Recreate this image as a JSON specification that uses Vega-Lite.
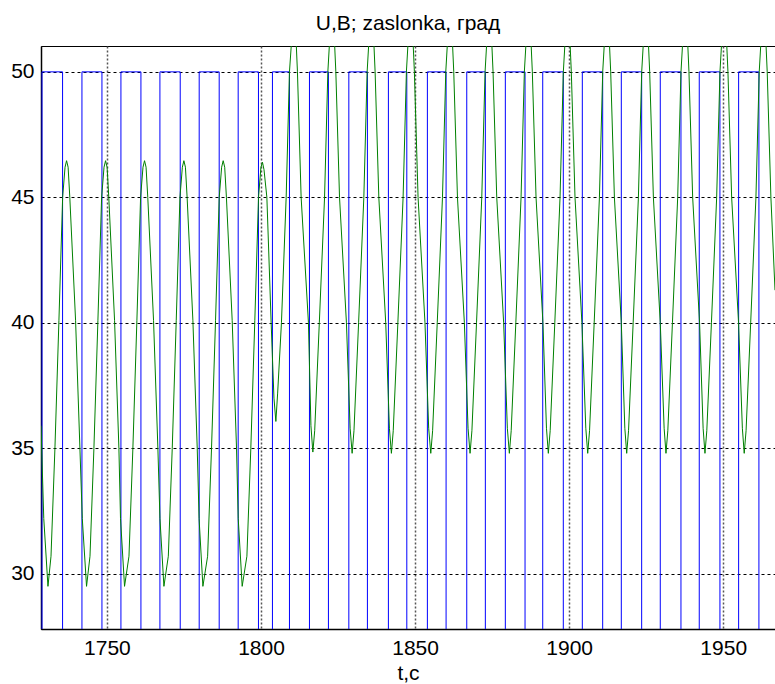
{
  "$schema": "https://vega.github.io/schema/vega-lite/v6.json",
  "width": 734,
  "height": 583,
  "autosize": {"type": "none"},
  "padding": {"left": 41, "top": 46, "right": 0, "bottom": 55},
  "background": "white",
  "title": {"text": "U,B; zaslonka, град", "font": "Liberation Sans", "fontSize": 21, "fontWeight": "normal", "color": "black", "anchor": "middle", "offset": 12},
  "config": {
    "view": {"stroke": "black", "strokeWidth": 1},
    "axis": {"labelFont": "Liberation Sans", "labelFontSize": 21, "labelColor": "black", "titleFont": "Liberation Sans", "titleFontSize": 21, "titleFontWeight": "normal", "titleColor": "black", "domainColor": "black", "domainWidth": 1.5, "ticks": false}
  },
  "datasets": {
    "blue": [
      {"t":1728.6,"v":0},{"t":1728.92,"v":50},{"t":1735.6,"v":0},{"t":1741.89,"v":50},{"t":1748.38,"v":0},{"t":1754.54,"v":50},{"t":1761.03,"v":0},{"t":1767.19,"v":50},{"t":1773.78,"v":0},{"t":1779.94,"v":50},{"t":1786.43,"v":0},{"t":1792.59,"v":50},{"t":1799.17,"v":0},{"t":1803.71,"v":50},{"t":1809.23,"v":0},{"t":1815.72,"v":50},{"t":1821.88,"v":0},{"t":1828.5,"v":50},{"t":1834.53,"v":0},{"t":1841.34,"v":50},{"t":1847.31,"v":0},{"t":1853.99,"v":50},{"t":1860.06,"v":0},{"t":1866.77,"v":50},{"t":1872.8,"v":0},{"t":1879.29,"v":50},{"t":1885.68,"v":0},{"t":1891.42,"v":50},{"t":1898.1,"v":0},{"t":1904.27,"v":50},{"t":1910.88,"v":0},{"t":1916.92,"v":50},{"t":1923.53,"v":0},{"t":1929.57,"v":50},{"t":1936.28,"v":0},{"t":1942.22,"v":50},{"t":1948.93,"v":0},{"t":1955.0,"v":50},{"t":1961.58,"v":0},{"t":1966.8,"v":0}
    ],
    "green": [
      {"t":1728.6,"v":35.9},{"t":1729.5,"v":32.2},{"t":1730.86,"v":29.5},
      {"t":1731.85,"v":30.7},{"t":1733.12,"v":35},{"t":1734.42,"v":40.1},{"t":1735.62,"v":45},{"t":1736.4,"v":46.2},{"t":1736.9,"v":46.46},{"t":1737.4,"v":46.2},{"t":1737.95,"v":45},{"t":1739.82,"v":40.1},{"t":1741.23,"v":35},{"t":1742.0,"v":32.2},{"t":1743.38,"v":29.5},
      {"t":1744.5,"v":30.7},{"t":1745.77,"v":35},{"t":1747.07,"v":40.1},{"t":1748.27,"v":45},{"t":1749.05,"v":46.2},{"t":1749.55,"v":46.46},{"t":1750.05,"v":46.2},{"t":1750.6,"v":45},{"t":1752.47,"v":40.1},{"t":1753.88,"v":35},{"t":1754.4,"v":32.2},{"t":1755.71,"v":29.5},
      {"t":1757.15,"v":30.7},{"t":1758.42,"v":35},{"t":1759.72,"v":40.1},{"t":1760.92,"v":45},{"t":1761.7,"v":46.2},{"t":1762.2,"v":46.46},{"t":1762.7,"v":46.2},{"t":1763.25,"v":45},{"t":1765.12,"v":40.1},{"t":1766.53,"v":35},{"t":1767.2,"v":32.2},{"t":1768.49,"v":29.5},
      {"t":1769.92,"v":30.7},{"t":1771.19,"v":35},{"t":1772.49,"v":40.1},{"t":1773.69,"v":45},{"t":1774.47,"v":46.2},{"t":1774.97,"v":46.46},{"t":1775.47,"v":46.2},{"t":1776.02,"v":45},{"t":1777.89,"v":40.1},{"t":1779.3,"v":35},{"t":1779.9,"v":32.2},{"t":1781.14,"v":29.5},
      {"t":1782.67,"v":30.7},{"t":1783.94,"v":35},{"t":1785.24,"v":40.1},{"t":1786.44,"v":45},{"t":1787.22,"v":46.2},{"t":1787.72,"v":46.46},{"t":1788.22,"v":46.2},{"t":1788.77,"v":45},{"t":1790.64,"v":40.1},{"t":1792.05,"v":35},{"t":1792.6,"v":32.2},{"t":1793.89,"v":29.5},
      {"t":1795.42,"v":30.7},{"t":1796.69,"v":35},{"t":1797.99,"v":40.1},{"t":1799.19,"v":45},{"t":1799.97,"v":46.2},{"t":1800.47,"v":46.4},{"t":1800.97,"v":46.1},{"t":1801.9,"v":45},{"t":1803.29,"v":40},{"t":1804.2,"v":37.0},{"t":1804.82,"v":36.07},
      {"t":1805.4,"v":37.2},{"t":1806.63,"v":40},{"t":1808.16,"v":45},{"t":1809.23,"v":50},{"t":1809.9,"v":51.2},{"t":1810.69,"v":52},{"t":1811.4,"v":51.2},{"t":1811.82,"v":50},{"t":1813.02,"v":45},{"t":1815.39,"v":40},{"t":1816.2,"v":35.9},
      {"t":1816.82,"v":34.85},{"t":1817.42,"v":35.7},{"t":1818.92,"v":40},{"t":1820.62,"v":45},{"t":1821.69,"v":50},{"t":1822.25,"v":51.2},{"t":1823.05,"v":52},{"t":1823.85,"v":51.2},{"t":1824.28,"v":50},{"t":1825.48,"v":45},{"t":1827.72,"v":40},{"t":1828.92,"v":35.8},
      {"t":1829.57,"v":34.8},{"t":1830.17,"v":35.7},{"t":1831.67,"v":40},{"t":1833.37,"v":45},{"t":1834.44,"v":50},{"t":1835.0,"v":51.2},{"t":1835.8,"v":52},{"t":1836.6,"v":51.2},{"t":1837.03,"v":50},{"t":1838.23,"v":45},{"t":1840.47,"v":40},{"t":1841.67,"v":35.8},
      {"t":1842.31,"v":34.8},{"t":1842.91,"v":35.7},{"t":1844.41,"v":40},{"t":1846.11,"v":45},{"t":1847.18,"v":50},{"t":1847.74,"v":51.2},{"t":1848.54,"v":52},{"t":1849.34,"v":51.2},{"t":1849.77,"v":50},{"t":1850.97,"v":45},{"t":1853.21,"v":40},{"t":1854.41,"v":35.8},
      {"t":1855.09,"v":34.8},{"t":1855.69,"v":35.7},{"t":1857.19,"v":40},{"t":1858.89,"v":45},{"t":1859.96,"v":50},{"t":1860.52,"v":51.2},{"t":1861.32,"v":52},{"t":1862.12,"v":51.2},{"t":1862.55,"v":50},{"t":1863.75,"v":45},{"t":1865.99,"v":40},{"t":1867.19,"v":35.8},
      {"t":1867.84,"v":34.8},{"t":1868.44,"v":35.7},{"t":1869.94,"v":40},{"t":1871.64,"v":45},{"t":1872.71,"v":50},{"t":1873.27,"v":51.2},{"t":1874.07,"v":52},{"t":1874.87,"v":51.2},{"t":1875.3,"v":50},{"t":1876.5,"v":45},{"t":1878.74,"v":40},{"t":1879.94,"v":35.8},
      {"t":1880.59,"v":34.8},{"t":1881.19,"v":35.7},{"t":1882.69,"v":40},{"t":1884.39,"v":45},{"t":1885.46,"v":50},{"t":1886.02,"v":51.2},{"t":1886.82,"v":52},{"t":1887.62,"v":51.2},{"t":1888.05,"v":50},{"t":1889.25,"v":45},{"t":1891.49,"v":40},{"t":1892.64,"v":35.8},
      {"t":1893.24,"v":34.8},{"t":1893.84,"v":35.7},{"t":1895.34,"v":40},{"t":1897.04,"v":45},{"t":1898.11,"v":50},{"t":1898.67,"v":51.2},{"t":1899.47,"v":52},{"t":1900.27,"v":51.2},{"t":1900.7,"v":50},{"t":1901.9,"v":45},{"t":1904.14,"v":40},{"t":1905.4,"v":35.8},
      {"t":1906.02,"v":34.8},{"t":1906.62,"v":35.7},{"t":1908.12,"v":40},{"t":1909.82,"v":45},{"t":1910.89,"v":50},{"t":1911.45,"v":51.2},{"t":1912.25,"v":52},{"t":1913.05,"v":51.2},{"t":1913.48,"v":50},{"t":1914.68,"v":45},{"t":1916.92,"v":40},{"t":1918.07,"v":35.8},
      {"t":1918.67,"v":34.8},{"t":1919.27,"v":35.7},{"t":1920.77,"v":40},{"t":1922.47,"v":45},{"t":1923.54,"v":50},{"t":1924.1,"v":51.2},{"t":1924.9,"v":52},{"t":1925.7,"v":51.2},{"t":1926.13,"v":50},{"t":1927.33,"v":45},{"t":1929.57,"v":40},{"t":1930.82,"v":35.8},
      {"t":1931.42,"v":34.8},{"t":1932.02,"v":35.7},{"t":1933.52,"v":40},{"t":1935.22,"v":45},{"t":1936.29,"v":50},{"t":1936.85,"v":51.2},{"t":1937.65,"v":52},{"t":1938.45,"v":51.2},{"t":1938.88,"v":50},{"t":1940.08,"v":45},{"t":1942.32,"v":40},{"t":1943.47,"v":35.8},
      {"t":1944.07,"v":34.8},{"t":1944.67,"v":35.7},{"t":1946.17,"v":40},{"t":1947.87,"v":45},{"t":1948.94,"v":50},{"t":1949.5,"v":51.2},{"t":1950.3,"v":52},{"t":1951.1,"v":51.2},{"t":1951.53,"v":50},{"t":1952.73,"v":45},{"t":1954.97,"v":40},{"t":1956.21,"v":35.8},
      {"t":1956.81,"v":34.8},{"t":1957.41,"v":35.7},{"t":1958.91,"v":40},{"t":1960.61,"v":45},{"t":1961.68,"v":50},{"t":1962.24,"v":51.2},{"t":1963.04,"v":52},{"t":1963.84,"v":51.2},{"t":1964.27,"v":50},{"t":1965.47,"v":45},{"t":1966.8,"v":41.3}
    ]
  },
  "encoding": {
    "x": {"field": "t", "type": "quantitative",
      "scale": {"domain": [1728.6, 1966.8], "nice": false, "zero": false},
      "axis": {"title": "t,c", "values": [1750, 1800, 1850, 1900, 1950], "format": "d", "grid": true, "gridColor": "#555555", "gridDash": [2, 2], "gridWidth": 1.5, "labelPadding": 8, "titlePadding": 4}},
    "y": {"field": "v", "type": "quantitative",
      "scale": {"domain": [27.8, 51.03], "nice": false, "zero": false},
      "axis": {"title": null, "values": [30, 35, 40, 45, 50], "grid": true, "gridColor": "black", "gridDash": [3, 3], "gridWidth": 1, "labelPadding": 7}}
  },
  "layer": [
    {"data": {"name": "blue"}, "mark": {"type": "line", "interpolate": "step-after", "color": "#0000ff", "strokeWidth": 1, "clip": true}},
    {"data": {"name": "green"}, "mark": {"type": "line", "color": "#008000", "strokeWidth": 1, "clip": true}}
  ]
}
